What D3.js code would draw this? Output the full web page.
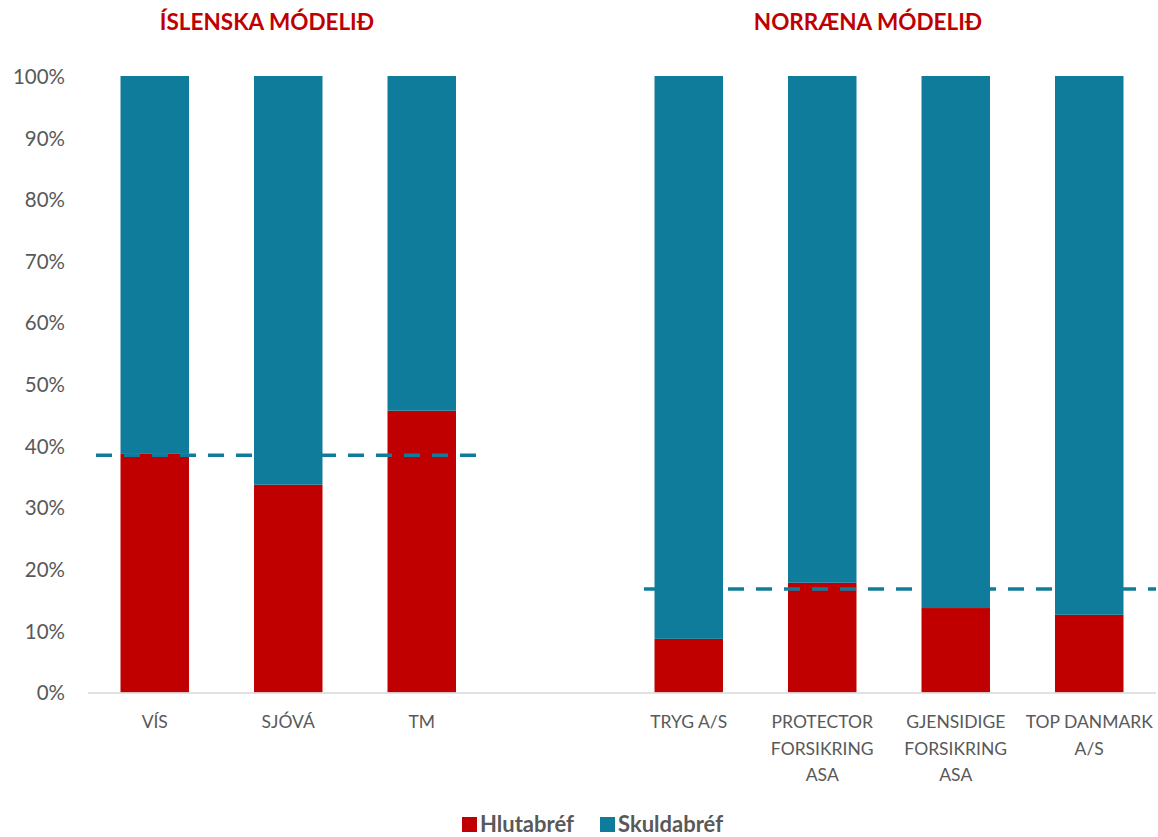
<!DOCTYPE html>
<html>
<head>
<meta charset="utf-8">
<script src="https://cdn.jsdelivr.net/npm/d3@7"></script>
<style>
  html, body { margin: 0; padding: 0; background: #fff; }
  svg { display: block; font-family: Lato, "Open Sans", sans-serif; }
</style>
</head>
<body>
<svg id="chart" width="1158" height="837"></svg>
<script>
// ---- data ----
const categories = ["VÍS", "SJÓVÁ", "TM", "", "TRYG A/S", "PROTECTOR FORSIKRING ASA", "GJENSIDIGE FORSIKRING ASA", "TOP DANMARK A/S"];
const hlutabref = [38.8, 33.7, 45.7, null, 8.7, 17.8, 13.7, 12.6];   // %
const skuldabref = [61.2, 66.3, 54.3, null, 91.3, 82.2, 86.3, 87.4]; // %
const yTicks = [0, 10, 20, 30, 40, 50, 60, 70, 80, 90, 100];
const groupTitles = ["ÍSLENSKA MÓDELIÐ", "NORRÆNA MÓDELIÐ"];
const groupAverages = [38.5, 16.8];
const seriesNames = ["Hlutabréf", "Skuldabréf"];

// ---- layout ----
const colors = { red: "#C00000", blue: "#107C9C", text: "#595959", axis: "#D9D9D9" };
const svg = d3.select("#chart");
const plotLeft = 88, plotRight = 1156, plotTop = 76, plotBottom = 692.5;

const x = d3.scaleBand().domain(categories.map((c, i) => i)).range([plotLeft, plotRight]).padding(0);
const step = x.step();
const barW = step * 0.513;
const y = d3.scaleLinear().domain([0, 100]).range([plotBottom, plotTop]);

// stacked data
const rows = categories.map((c, i) => ({ i, c, h: hlutabref[i], s: skuldabref[i] })).filter(d => d.h != null);
const stack = d3.stack().keys(["h", "s"])(rows);
const seriesColors = [colors.red, colors.blue];

const g = svg.append("g");
stack.forEach((layer, k) => {
  g.selectAll(null).data(layer).join("rect")
    .attr("x", d => x(d.data.i) + (step - barW) / 2)
    .attr("width", barW)
    .attr("y", d => y(d[1]))
    .attr("height", d => y(d[0]) - y(d[1]))
    .attr("fill", seriesColors[k]);
});

// x axis line
svg.append("line")
  .attr("x1", plotLeft).attr("x2", plotRight)
  .attr("y1", plotBottom + 0.5).attr("y2", plotBottom + 0.5)
  .attr("stroke", colors.axis).attr("stroke-width", 1.5);

// y axis labels
const yAxis = d3.axisLeft(y).tickValues(yTicks).tickFormat(d => d + "%").tickSize(0).tickPadding(0);
const ya = svg.append("g").attr("transform", "translate(65,0)").call(yAxis);
ya.select(".domain").remove();
ya.selectAll("text").attr("fill", colors.text).style("font-size", "20.5px").style("font-family", "Lato, sans-serif").attr("dy", "0.36em");

// x labels with wrapping
const xa = svg.append("g");
categories.forEach((c, i) => {
  if (!c) return;
  const t = xa.append("text")
    .attr("x", x(i) + step / 2)
    .attr("y", 728)
    .attr("text-anchor", "middle")
    .attr("fill", colors.text)
    .style("font-size", "17.5px");
  const words = c.split(" ");
  let lines = [], cur = [];
  const probe = svg.append("text").style("font-size", "17.5px");
  words.forEach(w => {
    const test = cur.concat([w]).join(" ");
    probe.text(test);
    if (cur.length && probe.node().getComputedTextLength() > step - 4) {
      lines.push(cur.join(" "));
      cur = [w];
    } else cur.push(w);
  });
  lines.push(cur.join(" "));
  probe.remove();
  lines.forEach((l, li) => {
    t.append("tspan").attr("x", x(i) + step / 2).attr("dy", li === 0 ? 0 : 26.5).text(l);
  });
});

// average dashed lines
const avgLines = [
  { v: groupAverages[0], x1: x(0) + 8, x2: x(2) + step - 12 },
  { v: groupAverages[1], x1: x(4) + 22, x2: plotRight }
];
svg.selectAll(null).data(avgLines).join("line")
  .attr("x1", d => d.x1).attr("x2", d => d.x2)
  .attr("y1", d => y(d.v)).attr("y2", d => y(d.v))
  .attr("stroke", colors.blue).attr("stroke-width", 3.5)
  .attr("stroke-dasharray", "16,12");

// group titles
const titleX = [267, 868];
groupTitles.forEach((tt, k) => {
  svg.append("text")
    .attr("x", titleX[k]).attr("y", 30)
    .attr("text-anchor", "middle")
    .attr("fill", colors.red)
    .style("font-size", "22.5px").style("font-weight", "bold")
    .text(tt);
});

// legend
const legend = svg.append("g");
const legX = [462, 600];
seriesNames.forEach((n, k) => {
  legend.append("rect").attr("x", legX[k]).attr("y", 817).attr("width", 15).attr("height", 15).attr("fill", seriesColors[k]);
  legend.append("text").attr("x", legX[k] + 18).attr("y", 832)
    .attr("fill", colors.text).style("font-size", "22px").style("font-weight", "bold").text(n);
});
</script>
</body>
</html>
